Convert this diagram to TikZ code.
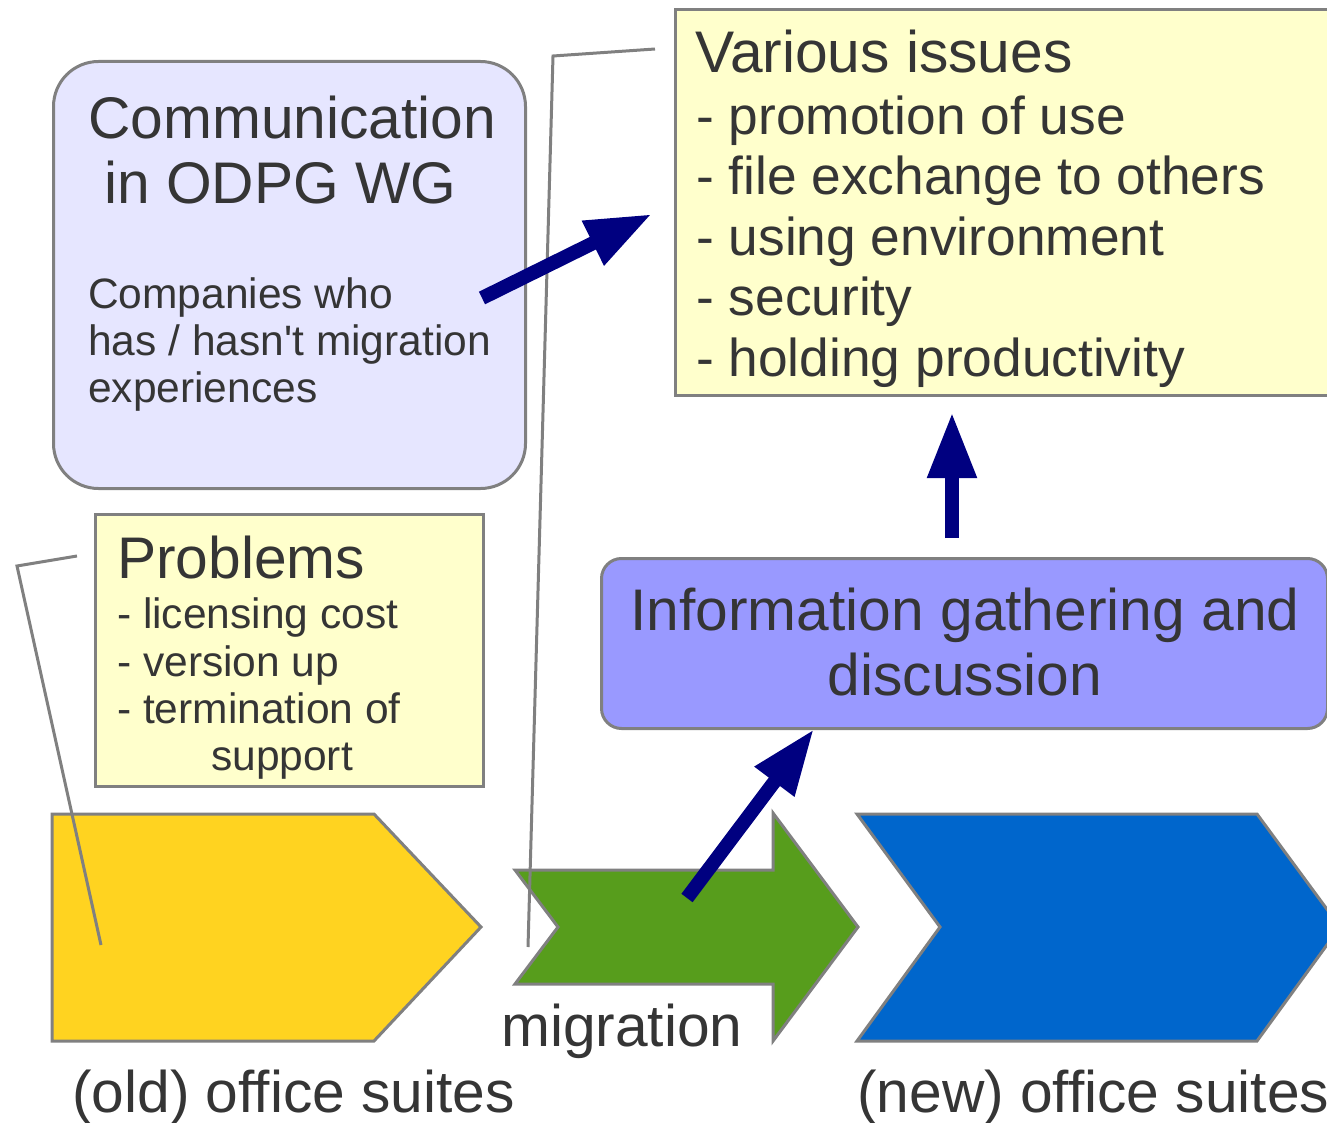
\documentclass[tikz,border=0pt]{standalone}
\usepackage{fontspec}
\setmainfont{Liberation Sans}
\newfontfamily\lsans{Liberation Sans}
\usetikzlibrary{arrows.meta}
\definecolor{oldyellow}{HTML}{FFD320}
\definecolor{miggreen}{HTML}{579D1C}
\definecolor{newblue}{HTML}{0066CC}
\definecolor{lavender}{HTML}{E6E6FF}
\definecolor{paleyellow}{HTML}{FFFFCC}
\definecolor{infoblue}{HTML}{9999FF}
\definecolor{navyc}{HTML}{000080}
\definecolor{bordergray}{HTML}{808080}
\definecolor{txtgray}{HTML}{353535}
\tikzset{
  outline/.style={draw=bordergray, line width=3pt, line join=miter},
  panel/.style={outline, inner sep=0pt, anchor=north west},
  callout/.style={draw=bordergray, line width=3pt, line join=miter},
  bigarrow/.style={draw=navyc, line width=14pt, -{Triangle[length=66pt,width=46pt]}},
  lbl/.style={inner sep=0pt, anchor=base west, text=txtgray},
  clbl/.style={inner sep=0pt, anchor=base, text=txtgray},
  fbig/.style={font=\lsans\fontsize{58.7}{66}\selectfont},
  fmid/.style={font=\lsans\fontsize{53.3}{60}\selectfont},
  fsmall/.style={font=\lsans\fontsize{42.5}{47}\selectfont}
}
\begin{document}
\begin{tikzpicture}[x=1pt,y=-1pt]
\useasboundingbox (0,0) rectangle (1327,1123);
\clip (0,0) rectangle (1327,1123);

% panels
\node[panel, fill=lavender, rounded corners=45pt, minimum width=472pt, minimum height=427pt] (comm) at (52,60) {};
\node[panel, fill=paleyellow, minimum width=388pt, minimum height=272pt] (problems) at (94,513) {};
\node[panel, fill=paleyellow, minimum width=680pt, minimum height=386pt] (issues) at (674,8) {};
\node[panel, fill=infoblue, rounded corners=20pt, minimum width=726pt, minimum height=170pt] (info) at (600,557) {};

% process shapes
\draw[outline, fill=oldyellow] (52,814) -- (374,814) -- (481,927) -- (374,1041) -- (52,1041) -- cycle;
\draw[outline, fill=miggreen] (515,870) -- (773,870) -- (773,813) -- (858,927) -- (773,1041) -- (773,984) -- (515,984) -- (558,927) -- cycle;
\draw[outline, fill=newblue] (857,814) -- (1257,814) -- (1340,927) -- (1257,1041) -- (857,1041) -- (940,927) -- cycle;

% callout lines
\coordinate (pc1) at (77,556);
\coordinate (pc2) at (17,566);
\coordinate (pc3) at (101,945);
\draw[callout] (pc1) -- (pc2) -- (pc3);
\coordinate (ic1) at (655,49);
\coordinate (ic2) at (553,56);
\coordinate (ic3) at (528,947);
\draw[callout] (ic1) -- (ic2) -- (ic3);

% arrows
\coordinate (a1s) at (482,298);
\coordinate (a1e) at (652,214);
\coordinate (a2s) at (952,538);
\coordinate (a2e) at (952,412);
\coordinate (a3s) at (687,898);
\coordinate (a3e) at (814,729);
\draw[bigarrow] (a1s) -- (a1e);
\draw[bigarrow] (a2s) -- (a2e);
\draw[bigarrow] (a3s) -- (a3e);

% texts: communication box
\node[lbl, fbig] (commt1) at (88,139) {Communication};
\node[lbl, fbig] (commt2) at (104,204) {in ODPG WG};
\node[lbl, fsmall] (commt3) at (88,308) {Companies who};
\node[lbl, fsmall] (commt4) at (88,355) {has / hasn't migration};
\node[lbl, fsmall] (commt5) at (88,402) {experiences};

% problems box
\node[lbl, fbig] (probt1) at (117,578) {Problems};
\node[lbl, fsmall] (probt2) at (117,628) {- licensing cost};
\node[lbl, fsmall] (probt3) at (117,676) {- version up};
\node[lbl, fsmall] (probt4) at (117,723) {- termination of};
\node[lbl, fsmall] (probt5) at (211,770) {support};

% issues box
\node[lbl, fbig] (isst1) at (695,73) {Various issues};
\node[lbl, fmid] (isst2) at (696,135) {- promotion of use};
\node[lbl, fmid] (isst3) at (696,195) {- file exchange to others};
\node[lbl, fmid] (isst4) at (696,255) {- using environment};
\node[lbl, fmid] (isst5) at (696,315) {- security};
\node[lbl, fmid] (isst6) at (696,376) {- holding productivity};

% info box
\node[clbl, fbig] (infot1) at (965,630) {Information gathering and};
\node[clbl, fbig] (infot2) at (965,695) {discussion};

% captions
\node[lbl, fbig] (migt) at (501,1046) {migration};
\node[lbl, fbig] (oldt) at (72,1112) {(old) office suites};
\node[lbl, fbig] (newt) at (857,1112) {(new) office suites};
\end{tikzpicture}
\end{document}
